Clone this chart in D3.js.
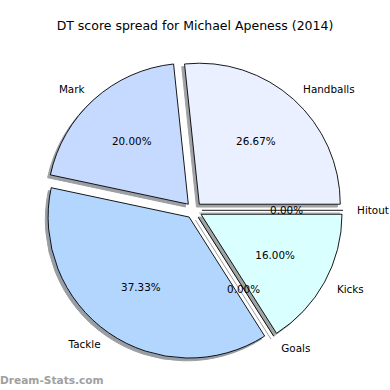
<!DOCTYPE html>
<html><head><meta charset="utf-8">
<script src="https://cdn.jsdelivr.net/npm/d3@7"></script>
<style>html,body{margin:0;padding:0;background:#fff;}svg{display:block;}</style>
</head><body>
<script>
const categories = ["Handballs", "Mark", "Tackle", "Goals", "Kicks", "Hitout"];
const values = [20, 15, 28, 0, 12, 0];
const colors = ["#eaf0ff", "#c6d9ff", "#b3d6ff", "#c0e0ff", "#d9ffff", "#e0e8ff"];
const title = "DT score spread for Michael Apeness (2014)";

const W = 390, H = 390;
const cx = 193.8, cy = 210.3, R = 141, explode = 8.2;
const sx = -2.8, sy = 2.8;

const svg = d3.select("body").append("svg").attr("width", W).attr("height", H)
  .style("font-family", "DejaVu Sans, sans-serif");

const total = d3.sum(values);
const pie = d3.pie().sort(null).value(d => d)
  .startAngle(Math.PI / 2).endAngle(Math.PI / 2 - 2 * Math.PI);
const arcs = pie(values);
const arc = d3.arc().innerRadius(0).outerRadius(R);

function dirOf(a) { return [Math.sin(a), -Math.cos(a)]; }

const shadowColor = c => {
  const k = d3.rgb(c);
  return d3.rgb(k.r * 0.3, k.g * 0.3, k.b * 0.3).toString();
};

const g = svg.append("g");
// shadows
arcs.forEach((a, i) => {
  const mid = (a.startAngle + a.endAngle) / 2;
  const [ux, uy] = dirOf(mid);
  const ox = cx + explode * ux + sx, oy = cy + explode * uy + sy;
  const sc = shadowColor(colors[i]);
  if (a.value > 0) {
    g.append("path").attr("transform", `translate(${ox},${oy})`)
      .attr("d", arc(a)).attr("fill", sc).attr("stroke", sc).attr("stroke-width", 1).attr("opacity", 0.5);
  } else {
    const [ex, ey] = dirOf(a.startAngle);
    g.append("line").attr("x1", ox).attr("y1", oy).attr("x2", ox + R * ex).attr("y2", oy + R * ey)
      .attr("stroke", sc).attr("stroke-width", 1).attr("opacity", 0.5);
  }
});
// wedges
arcs.forEach((a, i) => {
  const mid = (a.startAngle + a.endAngle) / 2;
  const [ux, uy] = dirOf(mid);
  const ox = cx + explode * ux, oy = cy + explode * uy;
  if (a.value > 0) {
    g.append("path").attr("transform", `translate(${ox},${oy})`)
      .attr("d", arc(a)).attr("fill", colors[i]).attr("stroke", "#000").attr("stroke-width", 0.9)
      .attr("stroke-linejoin", "miter");
  } else {
    const [ex, ey] = dirOf(a.startAngle);
    g.append("line").attr("x1", ox).attr("y1", oy).attr("x2", ox + R * ex).attr("y2", oy + R * ey)
      .attr("stroke", "#000").attr("stroke-width", 0.9);
  }
});
// labels
arcs.forEach((a, i) => {
  const mid = (a.startAngle + a.endAngle) / 2;
  const [ux, uy] = dirOf(mid);
  const lr = explode + 1.1 * R;
  const lx = cx + lr * ux, ly = cy + lr * uy;
  svg.append("text").attr("x", lx).attr("y", ly)
    .attr("text-anchor", ux > 1e-9 ? "start" : "end")
    .attr("dominant-baseline", "central")
    .attr("font-size", "10.4px").attr("fill", "#000").text(categories[i]);
  const pr = explode + 0.6 * R;
  const px = cx + pr * ux, py = cy + pr * uy;
  svg.append("text").attr("x", px).attr("y", py)
    .attr("text-anchor", "middle").attr("dominant-baseline", "central")
    .attr("font-size", "10.4px").attr("fill", "#000")
    .text((a.value / total * 100).toFixed(2) + "%");
});

svg.append("text").attr("x", 195).attr("y", 30).attr("text-anchor", "middle")
  .attr("font-size", "12.5px").attr("fill", "#000").text(title);

svg.append("text").attr("x", 0).attr("y", 384)
  .attr("font-size", "10.6px").attr("font-weight", "bold").attr("fill", "#a0a0a0")
  .text("Dream-Stats.com");
</script>
</body></html>
